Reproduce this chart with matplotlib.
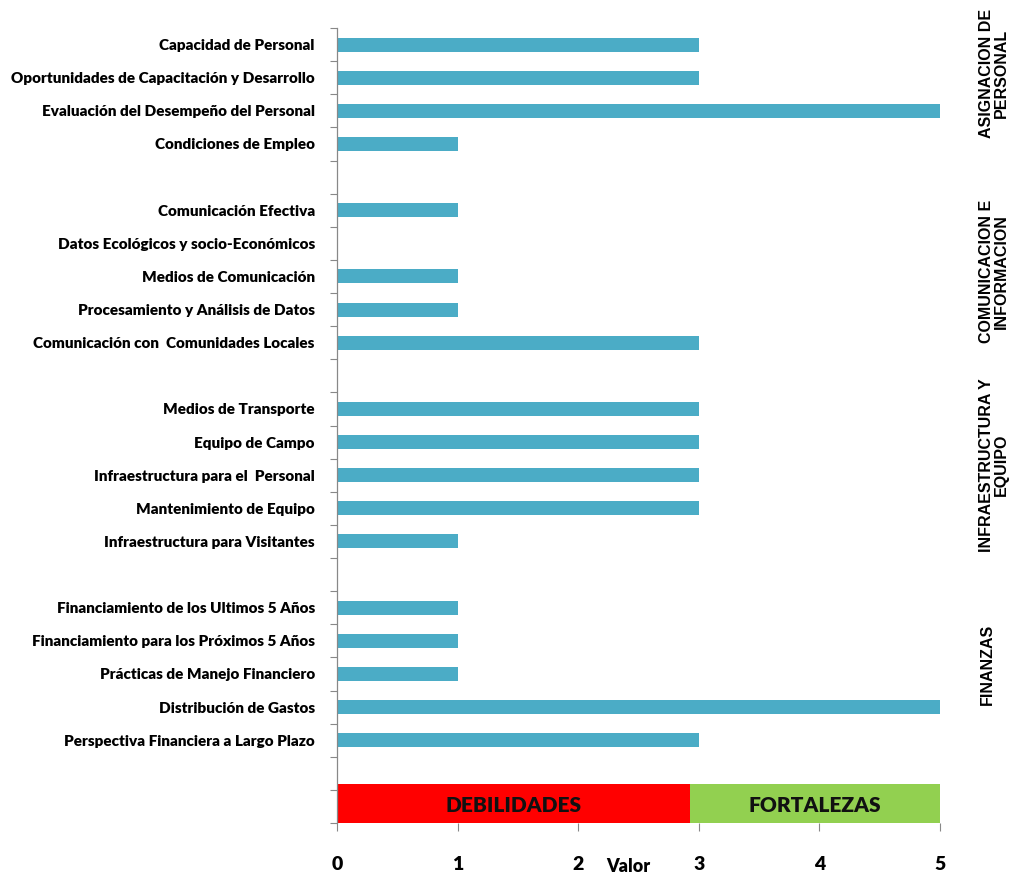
import matplotlib
matplotlib.use("Agg")
import matplotlib.pyplot as plt
import numpy as np

# Categorías de arriba hacia abajo; None marca el espacio entre grupos
categorias = [
    "Capacidad de Personal",
    "Oportunidades de Capacitación y Desarrollo",
    "Evaluación del Desempeño del Personal",
    "Condiciones de Empleo",
    None,
    "Comunicación Efectiva",
    "Datos Ecológicos y socio-Económicos",
    "Medios de Comunicación",
    "Procesamiento y Análisis de Datos",
    "Comunicación con  Comunidades Locales",
    None,
    "Medios de Transporte",
    "Equipo de Campo",
    "Infraestructura para el  Personal",
    "Mantenimiento de Equipo",
    "Infraestructura para Visitantes",
    None,
    "Financiamiento de los Ultimos 5 Años",
    "Financiamiento para los Próximos 5 Años",
    "Prácticas de Manejo Financiero",
    "Distribución de Gastos",
    "Perspectiva Financiera a Largo Plazo",
    None,
]
valores = [3, 3, 5, 1, None, 1, 0, 1, 1, 3, None, 3, 3, 3, 3, 1, None, 1, 1, 1, 5, 3, None]

grupos = ["ASIGNACION DE\nPERSONAL", "COMUNICACION E\nINFORMACION",
          "INFRAESTRUCTURA Y\nEQUIPO", "FINANZAS"]
grupo_centro = [0.86, 6.85, 12.7, 18.7]

limite_debilidades = 2.93
x_ticks = [0, 1, 2, 3, 4, 5]

COLOR_BARRA = "#4BACC6"
FUENTE = "Lato"

fig = plt.figure(figsize=(10.19, 8.75), dpi=100)
ax = fig.add_axes((337 / 1019, 1 - 823 / 875, (940 - 337) / 1019, (823 - 28) / 875))

n_filas = len(categorias) + 1  # fila extra para la franja debilidades/fortalezas
ys = np.arange(len(categorias))
for y, v in zip(ys, valores):
    if v is not None:
        ax.barh(y, v, height=0.42, color=COLOR_BARRA, left=0)

# franja inferior
y_franja = n_filas - 1 - 0.08
ax.barh(y_franja, limite_debilidades, height=1.18, left=0, color="#FF0000")
ax.barh(y_franja, 5 - limite_debilidades, height=1.18, left=limite_debilidades, color="#92D050")
ax.text(limite_debilidades / 2, y_franja + 0.05, "DEBILIDADES", ha="center", va="center",
        fontsize=15, fontweight="heavy", family=FUENTE, color="#111111")
ax.text((limite_debilidades + 5) / 2, y_franja + 0.05, "FORTALEZAS", ha="center", va="center",
        fontsize=15, fontweight="heavy", family=FUENTE, color="#111111")

ax.set_xlim(0, 5)
ax.set_ylim(n_filas - 0.5, -0.5)

etiquetas = [c if c else "" for c in categorias] + [""]
ax.set_yticks(np.arange(n_filas))
ax.set_yticklabels(etiquetas, fontsize=11, fontweight="heavy", family=FUENTE)
ax.set_yticks(np.arange(n_filas + 1) - 0.5, minor=True)
ax.tick_params(axis="y", which="major", length=0, pad=16)
ax.tick_params(axis="y", which="minor", length=5, color="#888888", width=0.8)

ax.set_xticks(x_ticks)
ax.set_xticklabels([str(t) for t in x_ticks], fontsize=14, fontweight="heavy", family=FUENTE)
ax.tick_params(axis="x", length=6, color="#888888", width=0.8, pad=18)

for s in ["top", "right", "bottom"]:
    ax.spines[s].set_visible(False)
ax.spines["left"].set_color("#888888")
ax.spines["left"].set_linewidth(0.9)

fig.text(628 / 1019, 1 - 866 / 875, "Valor", ha="center", va="center",
         fontsize=13, fontweight="heavy", family=FUENTE)

# rótulos de grupo a la derecha
for nombre, c in zip(grupos, grupo_centro):
    y_fig = ax.transData.transform((0, c))[1]
    x_pix = 987 if "\n" not in nombre else 994
    fig.text(x_pix / 1019, y_fig / 875, nombre, rotation=90, ha="center", va="center",
             multialignment="center", fontsize=11.5, fontweight="bold",
             family="Liberation Sans", linespacing=1.0)

fig.savefig("out.png", dpi=100, facecolor="white")
